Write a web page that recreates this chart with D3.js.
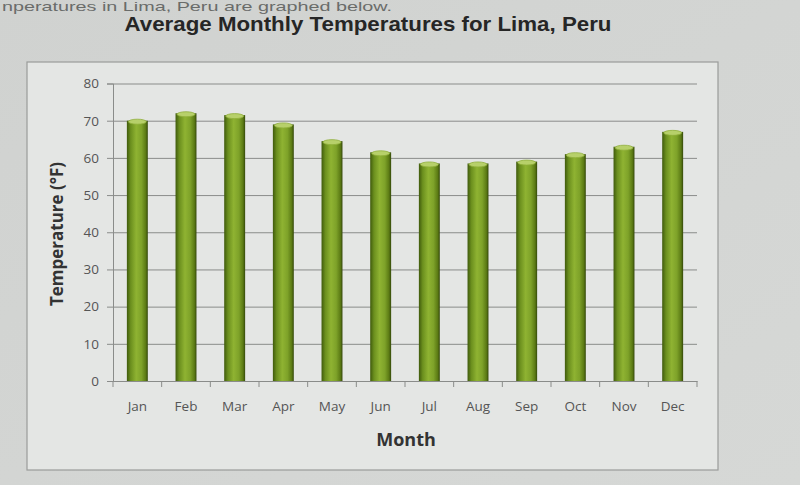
<!DOCTYPE html>
<html><head><meta charset="utf-8">
<script src="https://cdn.jsdelivr.net/npm/d3@7"></script>
<style>body{margin:0;background:#d3d5d3;}svg{display:block;}</style>
</head><body>
<svg id="c" width="800" height="485"></svg>
<script>
const months = ["Jan","Feb","Mar","Apr","May","Jun","Jul","Aug","Sep","Oct","Nov","Dec"];
const temps = [70,72,71.5,69,64.5,61.5,58.5,58.5,59,61,63,67];
const yTicks = [0,10,20,30,40,50,60,70,80];

const svg = d3.select("#c");
const W=800,H=485;
const bg = svg.append("defs");
const lg = bg.append("linearGradient").attr("id","bar").attr("x1","0").attr("x2","1");
[["0%","#3f5a0c"],["18%","#6b8f1e"],["45%","#8fb332"],["70%","#7ea229"],["90%","#5b7a14"],["100%","#34480a"]]
  .forEach(([o,c])=>lg.append("stop").attr("offset",o).attr("stop-color",c));
const pg = bg.append("linearGradient").attr("id","page").attr("x1","0").attr("x2","1").attr("y1","0").attr("y2","1");
pg.append("stop").attr("offset","0%").attr("stop-color","#d0d2d0");
pg.append("stop").attr("offset","100%").attr("stop-color","#d6d8d6");

svg.append("rect").attr("width",W).attr("height",H).attr("fill","url(#page)");

svg.append("text").attr("x",2).attr("y",11).attr("font-family","Liberation Sans, Arial, sans-serif")
  .attr("font-size",13).attr("fill","#6a6c6a").attr("textLength",390).attr("lengthAdjust","spacingAndGlyphs")
  .text("nperatures in Lima, Peru are graphed below.");
svg.append("text").attr("x",368).attr("y",31).attr("text-anchor","middle")
  .attr("font-family","Liberation Sans, Arial, sans-serif").attr("font-weight","bold")
  .attr("font-size",21).attr("fill","#262626").attr("textLength",487).attr("lengthAdjust","spacingAndGlyphs")
  .text("Average Monthly Temperatures for Lima, Peru");

svg.append("rect").attr("x",27).attr("y",62).attr("width",691).attr("height",408)
  .attr("fill","#e4e6e4").attr("stroke","#9a9c9a").attr("stroke-width",1.2);

const m = {l:113, r:697, t:83.5, b:381};
const x = d3.scaleBand().domain(months).range([m.l,m.r]).paddingInner(0.57).paddingOuter(0.285);
const y = d3.scaleLinear().domain([0,80]).range([m.b,m.t]);

const font = "Open Sans, Lato, sans-serif";
// gridlines
const grid = svg.append("g").attr("transform",`translate(${m.l},0)`)
  .call(d3.axisLeft(y).tickValues(yTicks).tickSize(-(m.r-m.l)).tickFormat(""));
grid.selectAll("line").attr("stroke","#8a8c8a").attr("stroke-width",1);
grid.select(".domain").remove();

// y axis
const ya = svg.append("g").attr("transform",`translate(${m.l},0)`)
  .call(d3.axisLeft(y).tickValues(yTicks).tickSize(6).tickPadding(8));
ya.select(".domain").attr("stroke","#8a8c8a");
ya.selectAll("line").attr("stroke","#8a8c8a");
ya.selectAll("text").attr("font-family",font).attr("font-size",13.5).attr("fill","#555");

// bars
const bw = x.bandwidth();
const g = svg.append("g");
g.selectAll("rect.b").data(temps).join("rect").attr("class","b")
  .attr("x",(d,i)=>x(months[i])).attr("y",d=>y(d)).attr("width",bw).attr("height",d=>m.b-y(d))
  .attr("fill","url(#bar)");
g.selectAll("ellipse").data(temps).join("ellipse")
  .attr("cx",(d,i)=>x(months[i])+bw/2).attr("cy",d=>y(d)+1).attr("rx",bw/2-1.5).attr("ry",2.5)
  .attr("fill","#b7d06a").attr("stroke","#8fae3a").attr("stroke-width",0.8);

// x axis
const xa = svg.append("g").attr("transform",`translate(0,${m.b})`)
  .call(d3.axisBottom(x).tickSize(0).tickPadding(20));
xa.select(".domain").attr("stroke","#8a8c8a");
xa.selectAll("text").attr("font-family",font).attr("font-size",13.5).attr("fill","#555");
const edges = months.map(mo=>x(mo)-x.step()*x.paddingInner()/2).concat([m.r]);
svg.append("g").selectAll("line").data(edges).join("line")
  .attr("x1",d=>d).attr("x2",d=>d).attr("y1",m.b).attr("y2",m.b+6).attr("stroke","#8a8c8a");

svg.append("text").attr("x",406).attr("y",446).attr("text-anchor","middle")
  .attr("font-family",font).attr("font-weight","bold").attr("font-size",18).attr("fill","#333").text("Month");
svg.append("text").attr("transform","translate(63,234) rotate(-90)").attr("text-anchor","middle")
  .attr("font-family",font).attr("font-weight","bold").attr("font-size",17).attr("fill","#333").text("Temperature (°F)");
</script>
</body></html>
